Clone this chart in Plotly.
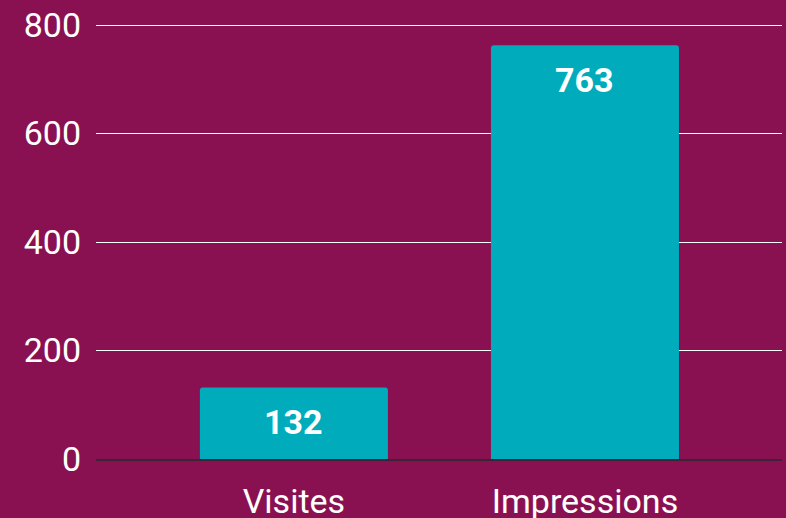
import plotly.graph_objects as go

categories = ["Visites", "Impressions"]
values = [132, 763]
y_ticks = [0, 200, 400, 600, 800]

BG = "#8A1151"
BAR = "#00ACBB"

fig = go.Figure()
fig.add_trace(go.Bar(
    x=categories, y=values,
    marker=dict(color=BAR, line=dict(width=0), cornerradius=3),
    width=0.646,
    hoverinfo="skip",
))

for c, v in zip(categories, values):
    fig.add_annotation(
        x=c, y=v, text=f"<b>{v}</b>", showarrow=False,
        yshift=-35, yanchor="middle",
        font=dict(family="Roboto", size=34, color="white"),
    )

fig.update_layout(
    width=786, height=518,
    margin=dict(l=96, r=4, t=24, b=59),
    paper_bgcolor=BG, plot_bgcolor=BG,
    showlegend=False,
    font=dict(family="Roboto", size=34, color="white"),
    xaxis=dict(
        range=[-0.68, 1.677], automargin=False,
        showgrid=False, zeroline=False,
        showline=True, linecolor="#3a2436", linewidth=2,
        ticks="", ticklabelstandoff=11,
        tickfont=dict(family="Roboto", size=34, color="white"),
    ),
    yaxis=dict(
        range=[0, 802], tickvals=y_ticks, automargin=False,
        showgrid=True, gridcolor="white", gridwidth=1.3,
        zeroline=False, showline=False, ticks="",
        ticklabelstandoff=14,
        tickfont=dict(family="Roboto", size=34, color="white"),
    ),
)

fig.write_html(
    "out.html",
    config={"displayModeBar": False},
    post_script="document.body.style.margin='0';document.body.style.overflow='hidden';document.body.style.background='%s';" % BG,
)
